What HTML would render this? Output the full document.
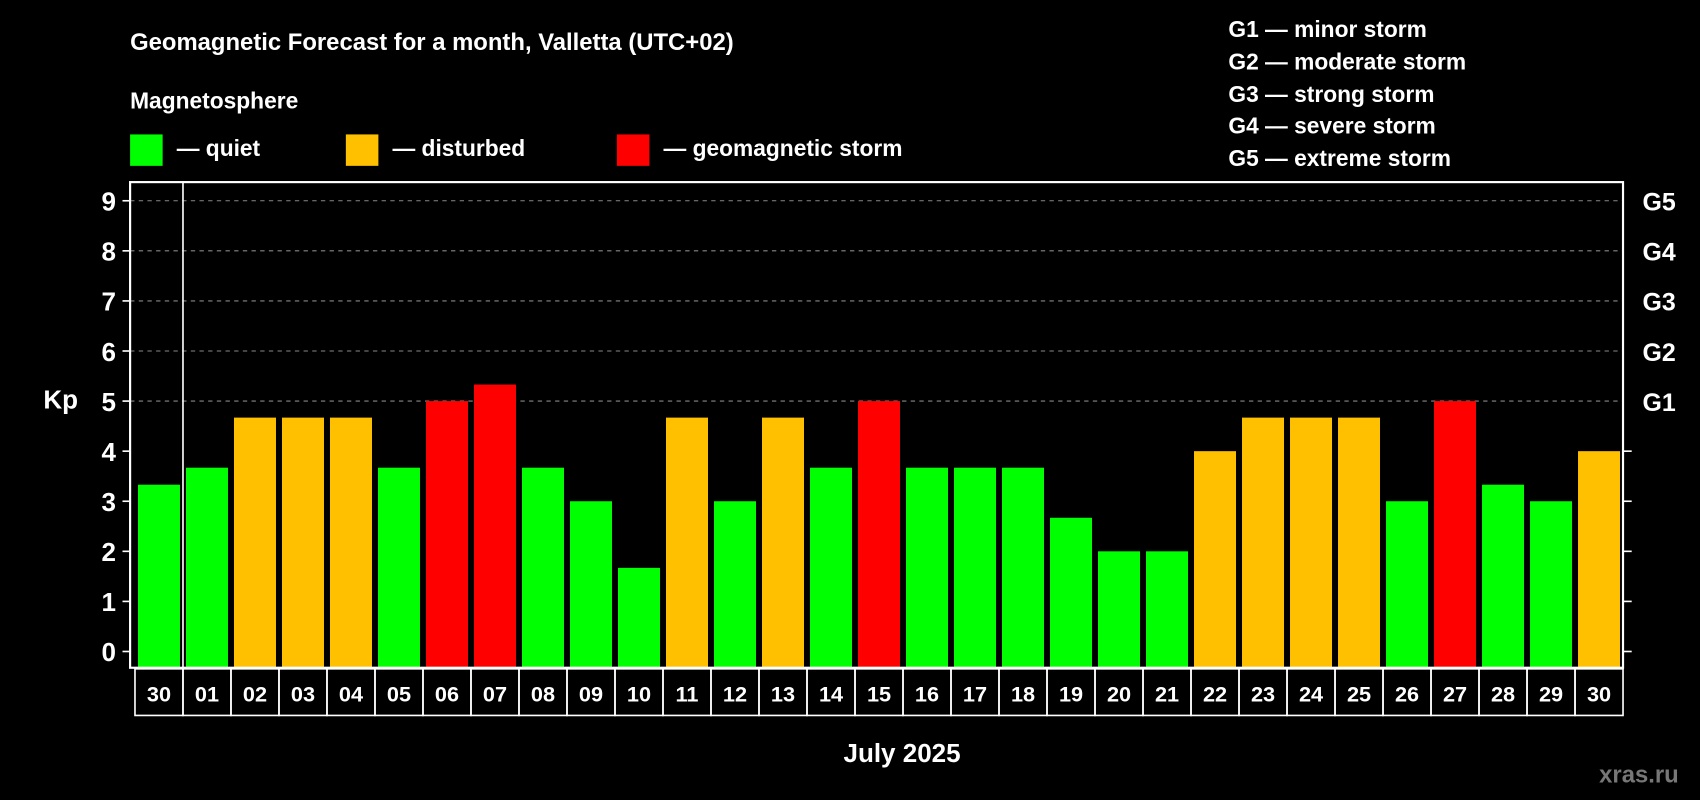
<!DOCTYPE html>
<html><head><meta charset="utf-8"><style>
html,body{margin:0;padding:0;background:#000;}
svg{display:block;font-family:"Liberation Sans",sans-serif;font-weight:bold;}
</style></head><body>
<svg id="chart" width="1700" height="800" viewBox="0 0 1568 738" preserveAspectRatio="none" xmlns="http://www.w3.org/2000/svg">
<rect x="0" y="0" width="1568" height="738" fill="#000"/>
<text x="120" y="46" fill="#fff" font-size="22">Geomagnetic Forecast for a month, Valletta (UTC+02)</text>
<text x="120" y="100" fill="#fff" font-size="21">Magnetosphere</text>
<g><rect x="120" y="124" width="30" height="29" fill="#00ff00"/><text x="163" y="144" fill="#fff" font-size="21">— quiet</text></g>
<g><rect x="319" y="124" width="30" height="29" fill="#ffc000"/><text x="362" y="144" fill="#fff" font-size="21">— disturbed</text></g>
<g><rect x="569" y="124" width="30" height="29" fill="#ff0000"/><text x="612" y="144" fill="#fff" font-size="21">— geomagnetic storm</text></g>
<g fill="#fff" font-size="21">
<text x="1133" y="34">G1 — minor storm</text>
<text x="1133" y="64">G2 — moderate storm</text>
<text x="1133" y="94">G3 — strong storm</text>
<text x="1133" y="123">G4 — severe storm</text>
<text x="1133" y="153">G5 — extreme storm</text>
</g>
<text x="40" y="377" fill="#fff" font-size="24">Kp</text>
<text x="832" y="703" fill="#fff" font-size="24" text-anchor="middle">July 2025</text>
<text x="1475" y="722" fill="#777" font-size="22">xras.ru</text>
<g id="grid"></g><g id="bars"></g><g id="axes"></g>
</svg>
<script>
const days=["30","01","02","03","04","05","06","07","08","09","10","11","12","13","14","15","16","17","18","19","20","21","22","23","24","25","26","27","28","29","30"];
const kp=[3.33,3.67,4.67,4.67,4.67,3.67,5,5.33,3.67,3,1.67,4.67,3,4.67,3.67,5,3.67,3.67,3.67,2.67,2,2,4,4.67,4.67,4.67,3,5,3.33,3,4];
const yTicks=[0,1,2,3,4,5,6,7,8,9];
const gLabels=["G1","G2","G3","G4","G5"];
const NS="http://www.w3.org/2000/svg";
const L=120,R=1497,T=168,B=616,pitch=(R-124.5)/days.length,bw=pitch*0.875;
const y=v=>601-46.2*v;
const xc=i=>124.5+pitch*(i+0.5);
function mk(p,tag,attrs){const e=document.createElementNS(NS,tag);for(const k in attrs)e.setAttribute(k,attrs[k]);p.appendChild(e);return e;}
const grid=document.getElementById('grid'),bars=document.getElementById('bars'),axes=document.getElementById('axes');
yTicks.forEach(t=>{
  if(t>=5){const g=mk(grid,'line',{x1:L,x2:R,y1:y(t),y2:y(t),stroke:'#888','stroke-width':1,'stroke-dasharray':'4,4'});
  
  }
  const tk=mk(axes,'line',{x1:113,x2:L,y1:y(t),y2:y(t),stroke:'#fff','stroke-width':1.5});
  
  
  const lb=mk(axes,'text',{x:107,y:y(t)+9,fill:'#fff','font-size':24,'text-anchor':'end'});lb.textContent=t;
  
  
  if(t<5){const rt=mk(axes,'line',{x1:R,x2:R+8,y1:y(t),y2:y(t),stroke:'#fff','stroke-width':1.5});
  
  }
  else{const gl=mk(axes,'text',{x:1515,y:y(t)+9,fill:'#fff','font-size':23});gl.textContent=gLabels[t-5];
  
  }
});
kp.forEach((v,i)=>{
  const c=v>=5?'#ff0000':(v>=4?'#ffc000':'#00ff00');
  const r=mk(bars,'rect',{x:xc(i)-bw/2,y:y(v),width:bw,height:B-y(v),fill:c});
  
  
  const cell=mk(axes,'rect',{x:xc(i)-pitch/2,y:617,width:pitch,height:43,fill:'none',stroke:'#fff','stroke-width':1.5});
  
  
  const tx=mk(axes,'text',{x:xc(i),y:647,fill:'#fff','font-size':20,'text-anchor':'middle'});tx.textContent=days[i];
  
  
});
const fr=mk(axes,'rect',{x:L,y:T,width:R-L,height:B-T,fill:'none',stroke:'#fff','stroke-width':2});


const sep=mk(axes,'line',{x1:xc(0)+pitch/2,x2:xc(0)+pitch/2,y1:T,y2:B,stroke:'#fff','stroke-width':1.5});


</script>
</body></html>
